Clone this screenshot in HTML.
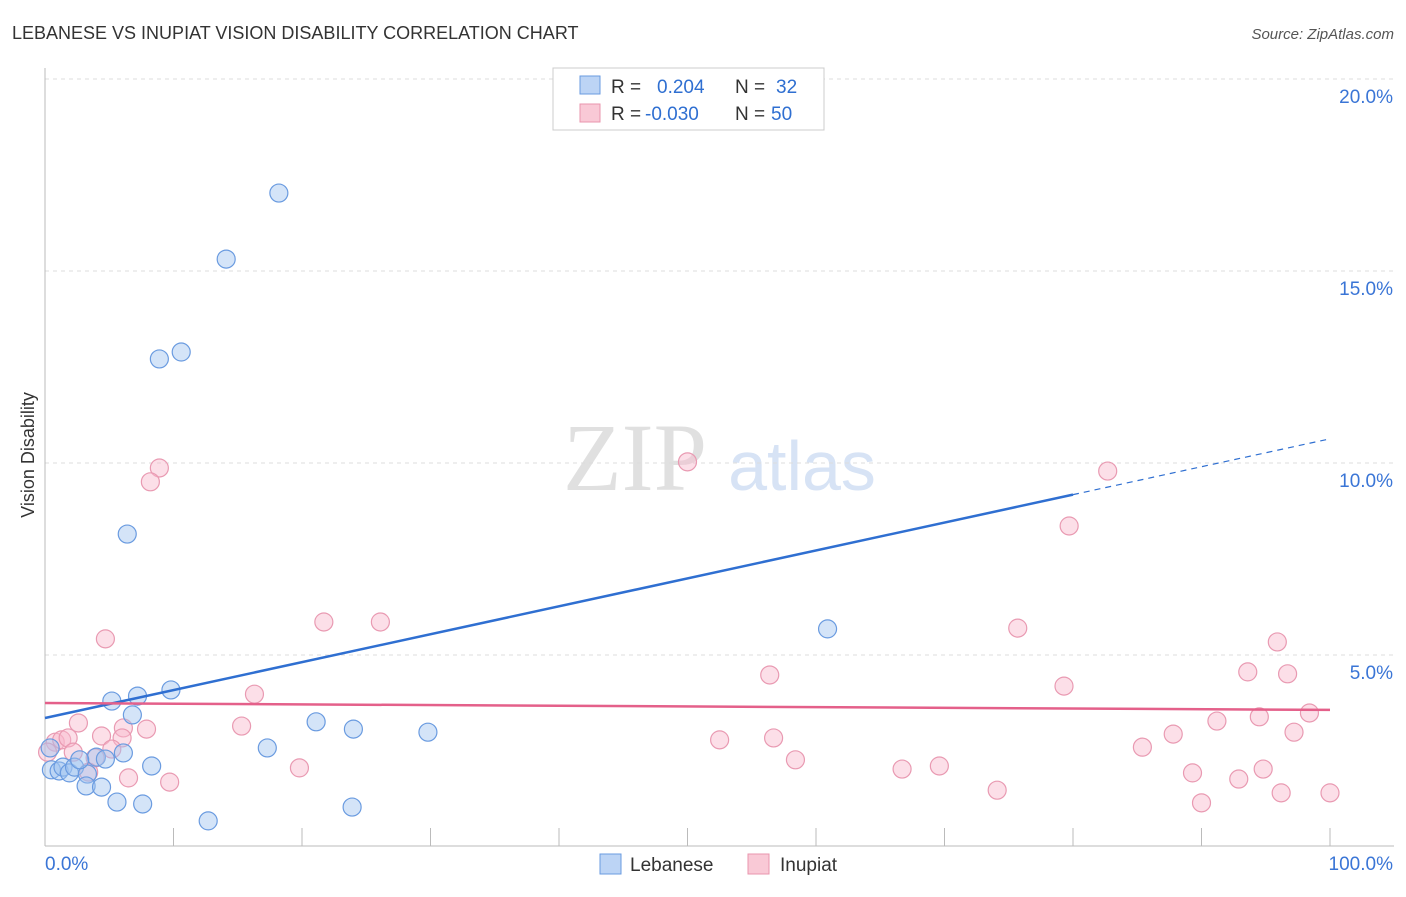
<!DOCTYPE html>
<html><head><meta charset="utf-8"><style>
body{margin:0;background:#fff;font-family:"Liberation Sans",sans-serif;}
svg text{font-family:"Liberation Sans",sans-serif;}
</style></head><body>
<svg id="c" width="1406" height="892">
<text x="12" y="39" font-size="18" fill="#333">LEBANESE VS INUPIAT VISION DISABILITY CORRELATION CHART</text>
<text x="1394" y="39" font-size="15" fill="#555" font-style="italic" text-anchor="end">Source: ZipAtlas.com</text>
<text x="34" y="455" font-size="18" fill="#333" transform="rotate(-90 34 455)" text-anchor="middle">Vision Disability</text>
<g><text x="635" y="490" font-size="96" fill="#e0e0e0" style="font-family:'Liberation Serif',serif" text-anchor="middle">ZIP</text><text x="802" y="490" font-size="70" fill="#d7e3f5" text-anchor="middle">atlas</text></g>
<g id="grid"></g><g id="marks"></g>
<g>
<rect x="553" y="68" width="271" height="62" fill="#fff" stroke="#ccc"/>
<rect x="580" y="76" width="20" height="18" fill="#bcd4f5" stroke="#6a9be0"/>
<rect x="580" y="104" width="20" height="18" fill="#f9c9d6" stroke="#e995ad"/>
<text x="611" y="93" font-size="19" fill="#333">R = <tspan fill="#2f6fd1" x="657">0.204</tspan><tspan fill="#333" x="735">N =</tspan><tspan fill="#2f6fd1" x="776">32</tspan></text>
<text x="611" y="120" font-size="19" fill="#333">R = <tspan fill="#2f6fd1" x="645">-0.030</tspan><tspan fill="#333" x="735">N =</tspan><tspan fill="#2f6fd1" x="771">50</tspan></text>
</g>
<g>
<rect x="600" y="854" width="21" height="20" fill="#bcd4f5" stroke="#6a9be0"/>
<text x="630" y="871" font-size="19" fill="#333">Lebanese</text>
<rect x="748" y="854" width="21" height="20" fill="#f9c9d6" stroke="#e995ad"/>
<text x="780" y="871" font-size="19" fill="#333">Inupiat</text>
</g>
</svg>
<script>
const yTicks=[5,10,15,20];
const yTickLabels=["5.0%","10.0%","15.0%","20.0%"];
const blueX=[18.2,14.1,10.6,8.9,6.4,60.9,9.8,7.2,5.2,6.8,21.1,24.0,29.8,6.1,4.0,17.3,4.7,8.3,0.5,1.1,1.4,1.9,2.3,3.3,3.2,4.4,5.6,7.6,23.9,12.7,0.4,2.7];
const blueY=[17.03,15.31,12.89,12.71,8.15,5.68,4.09,3.93,3.80,3.44,3.26,3.07,2.99,2.45,2.34,2.58,2.29,2.11,2.01,1.98,2.08,1.93,2.08,1.90,1.59,1.56,1.17,1.12,1.04,0.68,2.58,2.27];
const pinkX=[8.9,8.2,50.0,82.7,79.7,4.7,21.7,26.1,75.7,95.9,56.4,93.6,96.7,79.3,16.3,2.6,6.1,7.9,15.3,91.2,94.5,98.4,0.8,1.3,1.8,4.4,6.0,52.5,56.7,87.8,97.2,85.4,5.2,2.2,3.9,58.4,19.8,66.7,69.6,94.8,3.4,89.3,6.5,9.7,92.9,74.1,96.2,100,90.0,0.2];
const pinkY=[9.87,9.51,10.03,9.79,8.36,5.42,5.86,5.86,5.70,5.34,4.48,4.56,4.51,4.19,3.98,3.23,3.10,3.07,3.15,3.28,3.39,3.49,2.73,2.79,2.84,2.89,2.84,2.79,2.84,2.94,2.99,2.60,2.55,2.47,2.32,2.27,2.06,2.03,2.11,2.03,1.95,1.93,1.80,1.69,1.77,1.48,1.41,1.41,1.15,2.47];
const blueTrend=[3.36,10.63];
const pinkTrend=[3.75,3.57];
const NS="http://www.w3.org/2000/svg";
const X=v=>45+v*12.85, Y=v=>847-v*38.4;
function mk(t,a,p){const e=document.createElementNS(NS,t);for(const k in a)e.setAttribute(k,a[k]);p.appendChild(e);return e;}
const g=document.getElementById('grid'), m=document.getElementById('marks');
yTicks.forEach((t,i)=>{
 const l=mk('line',{x1:45,x2:1394,y1:Y(t),y2:Y(t),stroke:'#ddd','stroke-dasharray':'4,4'},g);
 
 
 const tx=mk('text',{x:1393,y:Y(t)+24,'font-size':19,fill:'#3a75d6','text-anchor':'end'},g);
 tx.textContent=yTickLabels[i];
 
 
});
mk('line',{x1:45,x2:45,y1:68,y2:846,stroke:'#bbb'},g);
mk('line',{x1:45,x2:1394,y1:846,y2:846,stroke:'#bbb'},g);
for(let i=1;i<=10;i++){const t=mk('line',{x1:X(i*10),x2:X(i*10),y1:828,y2:846,stroke:'#bbb'},g);}
const x0=mk('text',{x:45,y:870,'font-size':19,fill:'#3a75d6'},g);x0.textContent='0.0%';


const x1=mk('text',{x:1393,y:870,'font-size':19,fill:'#3a75d6','text-anchor':'end'},g);x1.textContent='100.0%';


pinkX.forEach((v,i)=>{const c=mk('circle',{cx:X(v),cy:Y(pinkY[i]),r:9,fill:'rgba(248,185,205,0.45)',stroke:'#e99ab2','stroke-width':1.2},m);
 
 });
blueX.forEach((v,i)=>{const c=mk('circle',{cx:X(v),cy:Y(blueY[i]),r:9,fill:'rgba(160,195,240,0.45)',stroke:'#6a9be0','stroke-width':1.2},m);
 
 });
const bAt=p=>blueTrend[0]+(blueTrend[1]-blueTrend[0])*p/100;
const bl=mk('line',{x1:X(0),y1:Y(bAt(0)),x2:X(80),y2:Y(bAt(80)),stroke:'#2f6fd1','stroke-width':2.5},m);


const bd=mk('line',{x1:X(80),y1:Y(bAt(80)),x2:X(100),y2:Y(bAt(100)),stroke:'#2f6fd1','stroke-width':1.2,'stroke-dasharray':'6,5'},m);


const pl=mk('line',{x1:X(0),y1:Y(pinkTrend[0]),x2:X(100),y2:Y(pinkTrend[1]),stroke:'#e4608a','stroke-width':2.5},m);


</script>
</body></html>
